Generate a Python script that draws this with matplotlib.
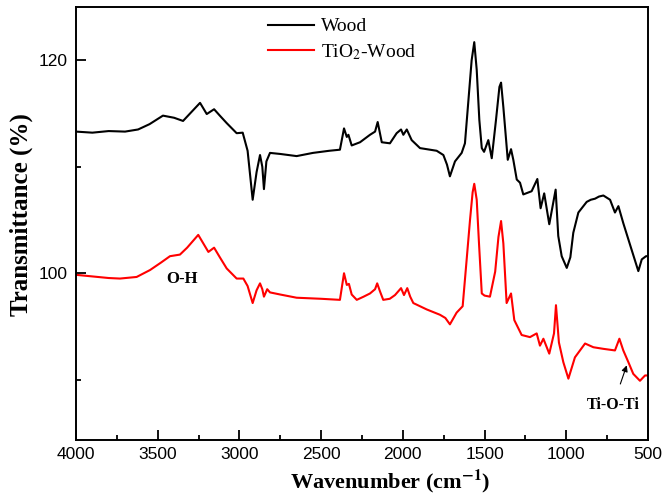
import numpy as np
import matplotlib
matplotlib.use("Agg")
from matplotlib import pyplot as plt
from matplotlib.ticker import MultipleLocator

# FTIR spectra (wavenumber cm-1, transmittance %)
wood_wn = [4000, 3900, 3800, 3700, 3620, 3550, 3468, 3400, 3345, 3290, 3241, 3200, 3155,
           3120, 3078, 3017, 2980, 2950, 2919, 2895, 2874, 2860, 2850, 2835, 2813, 2750,
           2650, 2550, 2450, 2385, 2360, 2343, 2333, 2313, 2262, 2201, 2170, 2154, 2129,
           2079, 2038, 2011, 1997, 1976, 1946, 1895, 1793, 1752, 1730, 1712, 1681, 1640,
           1620, 1600, 1579, 1563, 1548, 1532, 1517, 1503, 1477, 1456, 1430, 1409, 1399,
           1385, 1358, 1338, 1324, 1303, 1283, 1263, 1212, 1177, 1157, 1135, 1104, 1065,
           1049, 1028, 997, 975, 957, 926, 875, 850, 824, 800, 773, 732, 702, 681, 651,
           600, 559, 538, 512, 500]
wood_t = [113.3, 113.2, 113.35, 113.3, 113.5, 114.0, 114.8, 114.6, 114.3, 115.2, 116.0,
          114.95, 115.4, 114.8, 114.1, 113.15, 113.2, 111.5, 106.9, 109.5, 111.1, 110.0,
          107.9, 110.5, 111.3, 111.2, 111.0, 111.3, 111.5, 111.6, 113.6, 112.8, 113.0,
          112.0, 112.3, 113.0, 113.3, 114.2, 112.3, 112.2, 113.15, 113.5, 113.0, 113.5,
          112.5, 111.75, 111.5, 111.1, 110.2, 109.1, 110.5, 111.3, 112.2, 116.0, 120.0,
          121.7, 119.1, 114.4, 111.75, 111.4, 112.5, 110.8, 114.4, 117.5, 117.9, 115.6,
          110.65, 111.65, 110.65, 108.8, 108.5, 107.4, 107.7, 108.85, 106.1, 107.5, 104.6,
          107.85, 103.5, 101.6, 100.5, 101.5, 103.8, 105.7, 106.7, 106.9, 107.0, 107.2,
          107.3, 106.9, 105.7, 106.3, 104.7, 102.2, 100.2, 101.3, 101.6, 101.6]

tio2_wn = [4000, 3900, 3800, 3731, 3629, 3547, 3480, 3425, 3364, 3320, 3252, 3190, 3155,
           3120, 3078, 3017, 2976, 2950, 2919, 2895, 2874, 2860, 2850, 2830, 2813, 2750,
           2650, 2500, 2385, 2360, 2343, 2330, 2313, 2282, 2240, 2201, 2170, 2157, 2140,
           2120, 2080, 2048, 2011, 1993, 1973, 1955, 1936, 1854, 1773, 1740, 1712, 1671,
           1634, 1610, 1589, 1573, 1563, 1548, 1534, 1517, 1500, 1467, 1435, 1415, 1399,
           1385, 1365, 1338, 1318, 1273, 1222, 1181, 1161, 1140, 1104, 1075, 1063, 1045,
           1018, 987, 947, 885, 834, 773, 702, 675, 651, 620, 590, 549, 518, 500]
tio2_t = [99.85, 99.7, 99.55, 99.5, 99.65, 100.3, 101.0, 101.6, 101.75, 102.4, 103.6,
          102.0, 102.4, 101.5, 100.45, 99.5, 99.5, 98.8, 97.2, 98.4, 99.05, 98.5, 97.8,
          98.5, 98.2, 98.0, 97.7, 97.6, 97.5, 100.0, 98.9, 99.0, 98.0, 97.5, 97.8, 98.1,
          98.5, 99.05, 98.3, 97.5, 97.6, 97.95, 98.6, 97.95, 98.6, 97.8, 97.2, 96.6, 96.1,
          95.8, 95.2, 96.3, 96.9, 101.2, 105.0, 107.6, 108.4, 106.9, 102.8, 98.1, 97.9,
          97.8, 100.15, 103.4, 104.9, 102.8, 97.2, 98.1, 95.6, 94.2, 94.0, 94.35, 93.2,
          93.85, 92.45, 94.35, 97.0, 93.5, 91.65, 90.1, 92.1, 93.4, 93.05, 92.9, 92.75,
          93.85, 92.75, 91.65, 90.55, 89.9, 90.4, 90.4]

serif = ['Liberation Serif', 'DejaVu Serif']
sans = ['Liberation Sans', 'DejaVu Sans']
plt.rcParams['mathtext.fontset'] = 'stix'

fig = plt.figure(figsize=(6.65, 4.97), dpi=100)
ax = fig.add_axes([0.1143, 0.1147, 0.8601, 0.8712])

ax.plot(wood_wn, wood_t, color='black', lw=1.5, label='Wood')
ax.plot(tio2_wn, tio2_t, color='red', lw=1.5, label='TiO$_2$-Wood')

ax.set_xlim(4000, 500)
ax.set_ylim(84.34, 125)
ax.xaxis.set_major_locator(MultipleLocator(500))
ax.xaxis.set_minor_locator(MultipleLocator(250))
ax.yaxis.set_major_locator(MultipleLocator(20))
ax.yaxis.set_minor_locator(MultipleLocator(10))
ax.tick_params(which='both', direction='in', width=1.3)
ax.tick_params(which='major', length=7)
ax.tick_params(which='minor', length=3.6)
ax.tick_params(axis='x', pad=5)
ax.tick_params(axis='y', pad=6)
for lab in ax.get_xticklabels() + ax.get_yticklabels():
    lab.set_family(sans)
    lab.set_fontsize(12.5)
for sp in ax.spines.values():
    sp.set_linewidth(1.4)

ax.set_xlabel(r'Wavenumber (cm$^{\mathbf{-1}}$)', family=serif, fontsize=16, fontweight='bold')
ax.set_ylabel('Transmittance (%)', family=serif, fontsize=18, fontweight='bold')
ax.xaxis.set_label_coords(0.549, -0.064)
ax.yaxis.set_label_coords(-0.075, 0.52)

leg = ax.legend(loc='upper left', bbox_to_anchor=(0.329, 0.984), frameon=False,
                prop={'family': serif, 'size': 14}, borderpad=0.2, borderaxespad=0,
                handlelength=2.35, handletextpad=0.35, labelspacing=0.35)

ax.text(3353, 99.5, 'O-H', family=serif, fontsize=12, fontweight='bold',
        ha='center', va='center')
ax.annotate('Ti-O-Ti', xy=(630, 91.35), xytext=(714, 87.6), family=serif, fontsize=11.5,
            fontweight='bold', ha='center', va='center',
            arrowprops=dict(arrowstyle='-|>', color='black', lw=0.8, mutation_scale=9,
                            shrinkA=8, shrinkB=0))

plt.savefig('out.png', dpi=100)
